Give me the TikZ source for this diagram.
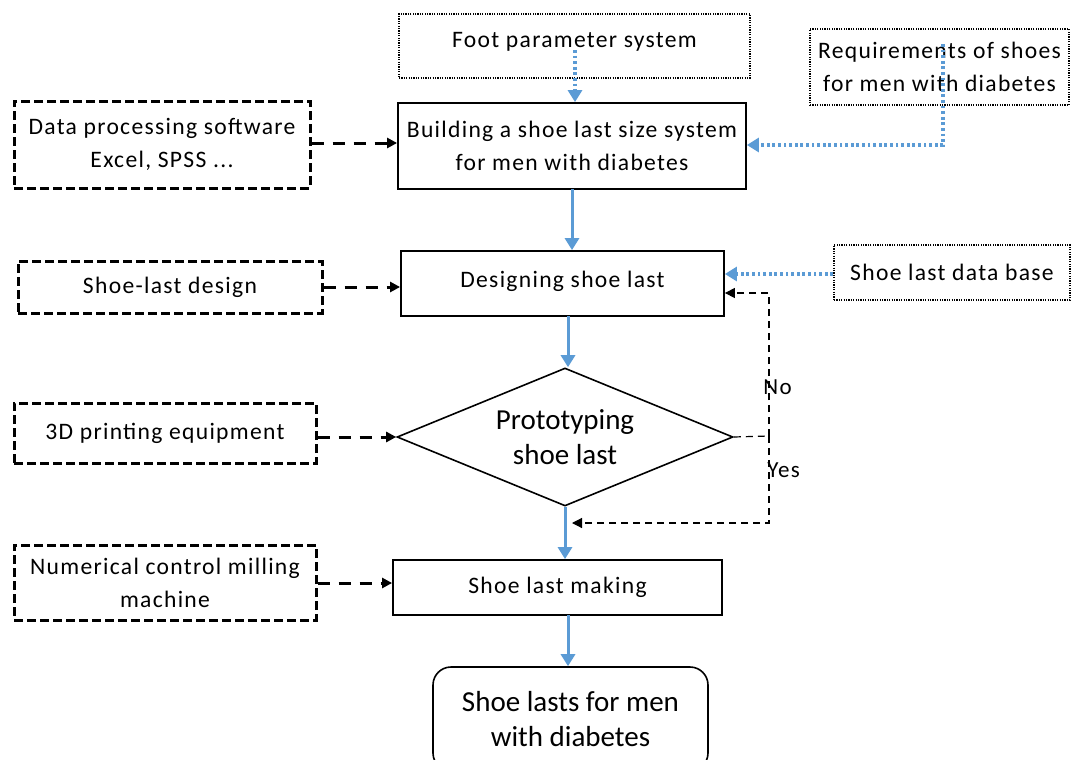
\documentclass[tikz,border=0pt]{standalone}
\usepackage{fontspec}
\setmainfont{Carlito}[LetterSpace=5.5]
\newfontfamily\bigfont{Carlito}
\usetikzlibrary{shapes.geometric,arrows.meta}
\definecolor{blu}{HTML}{5B9BD5}
\begin{document}
\begin{tikzpicture}[x=0.5pt,y=-0.5pt,
  base/.style={inner sep=0pt,align=center,font=\fontsize{11.8}{16.5}\selectfont},
  solidbox/.style={base,draw,line width=0.9pt},
  dotbox/.style={base,draw,line width=0.8pt,dash pattern=on 0.6pt off 0.6pt},
  dashbox/.style={base,draw,line width=1.5pt,dash pattern=on 4.5pt off 2pt},
  bigtext/.style={font=\bigfont\fontsize{14.5}{17.5}\selectfont},
  bluearrow/.style={draw=blu,line width=1.5pt,-{Triangle[width=7pt,length=6pt]},blu},
  bluedot/.style={draw=blu,line width=1.6pt,dash pattern=on 1.4pt off 1.4pt,-{Triangle[width=7pt,length=6pt]},blu},
  darrow/.style={draw,line width=1.5pt,dash pattern=on 6pt off 4.5pt,-{Triangle[width=5pt,length=5pt]}},
  loopline/.style={draw,line width=0.6pt,dash pattern=on 3.5pt off 2.5pt},
  lbl/.style={inner sep=0pt,font=\fontsize{11.5}{14}\selectfont}]
\useasboundingbox (0,0) rectangle (1072,760);

% nodes
\node[dotbox,minimum width=175.5pt,minimum height=32pt,text depth=6pt] (foot) at (574.5,46) {Foot parameter system};
\node[dotbox,minimum width=129.5pt,minimum height=38pt] (req) at (939.5,67) {Requirements of shoes\\for men with diabetes};
\node[solidbox,minimum width=174pt,minimum height=43pt] (build) at (572,146) {Building a shoe last size system\\for men with diabetes};
\node[dashbox,minimum width=148pt,minimum height=43.5pt] (data) at (162,144.5) {Data processing software\\Excel, SPSS ...};
\node[dashbox,minimum width=152pt,minimum height=26pt] (sld) at (170,287) {Shoe-last design};
\node[solidbox,minimum width=161.5pt,minimum height=32.5pt,text depth=4pt] (design) at (562.5,283.5) {Designing shoe last};
\node[dotbox,minimum width=118pt,minimum height=27.5pt] (db) at (952,272.5) {Shoe last data base};
\node[draw,line width=0.8pt,diamond,aspect=2.43,inner sep=0pt,minimum width=168pt,minimum height=69pt,align=center,bigtext] (proto) at (565,437) {Prototyping\\shoe last};
\node[dashbox,minimum width=151pt,minimum height=30pt] (td) at (165,433) {3D printing equipment};
\node[dashbox,minimum width=151pt,minimum height=37.5pt] (ncm) at (165,582.5) {Numerical control milling\\machine};
\node[solidbox,minimum width=164.5pt,minimum height=27.5pt] (make) at (557.5,587.5) {Shoe last making};
\node[draw,line width=0.8pt,rounded corners=9pt,minimum width=137.5pt,minimum height=52pt,align=center,inner sep=0pt,bigtext] (out) at (570.5,719) {Shoe lasts for men\\with diabetes};

% connectors
\coordinate (fs) at (575,50);
\draw[bluedot] (fs) -- (fs |- build.north);
\coordinate (rs) at (943,44);
\coordinate (rc) at (943,145);
\draw[bluedot] (rs) -- (rc) -- (rc -| build.east);
\draw[darrow] (data.east |- 0,143) -- (build.west |- 0,143);
\draw[bluearrow] (572,189) coordinate (b1) -- (b1 |- design.north);
\draw[darrow] (sld.east) -- (sld.east -| design.west);
\draw[bluedot] (db.west |- 0,274) -- (design.east |- 0,274);
\draw[bluearrow] (568,316) coordinate (d1) -- (d1 |- proto.north);
\draw[darrow] (td.east |- proto.west) -- (proto.west);
\coordinate (lr) at (769,436);
\coordinate (lt) at (769,293);
\coordinate (lb) at (769,523);
\draw[loopline] (proto.east) -- (lr);
\draw[loopline,-{Triangle[width=5pt,length=5pt]}] (lr) -- (lt) -- (lt -| design.east);
\draw[loopline,-{Triangle[width=5pt,length=5pt]}] (lr) -- (lb) -- (572,523);
\node[lbl,anchor=west] (no) at (763,387) {No};
\node[lbl,anchor=west] (yes) at (767,470) {Yes};
\draw[bluearrow] (proto.south) -- (proto.south |- make.north);
\draw[darrow] (ncm.east |- 0,583) -- (make.west |- 0,583);
\draw[bluearrow] (568,615) coordinate (m1) -- (m1 |- out.north);
\end{tikzpicture}
\end{document}
